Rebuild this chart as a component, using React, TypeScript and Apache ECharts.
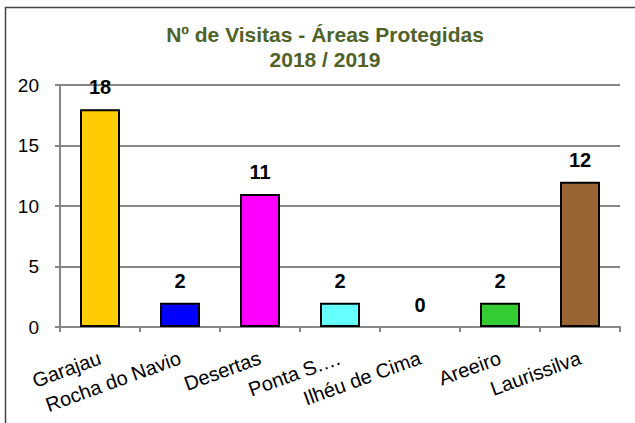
import React, { useEffect, useRef } from "react";
import * as echarts from "echarts";

const categories = ["Garajau", "Rocha do Navio", "Desertas", "Ponta S.…", "Ilhéu de Cima", "Areeiro", "Laurissilva"];
const visits = [18, 2, 11, 2, 0, 2, 12];
const barColors = ["#FFCC00", "#0000FF", "#FF00FF", "#66FFFF", "#33CC33", "#33CC33", "#996633"];
const yTicks = [0, 5, 10, 15, 20];
const titleLines = ["Nº de Visitas - Áreas Protegidas", "2018 / 2019"];

export default function App() {
  const ref = useRef<HTMLDivElement>(null);
  useEffect(() => {
    if (!ref.current) return;
    const chart = echarts.init(ref.current, null, { renderer: "svg" });
    const font = "Arial, 'Liberation Sans', sans-serif";
    chart.setOption({
      animation: false,
      backgroundColor: "#ffffff",
      title: {
        text: titleLines.join("\n"),
        left: 325,
        textAlign: "center",
        top: 22,
        padding: 0,
        textStyle: {
          color: "#4F6228",
          fontSize: 21,
          fontWeight: "bold",
          fontFamily: font,
          lineHeight: 25,
        },
      },
      graphic: [
        {
          type: "rect",
          shape: { x: 5.5, y: 7.5, width: 700, height: 500 },
          style: { fill: "none", stroke: "#444444", lineWidth: 1.5 },
          silent: true,
          z: 100,
        },
      ],
      grid: { left: 60, right: 15, top: 85, bottom: 96, containLabel: false },
      xAxis: {
        type: "category",
        data: categories,
        axisLine: { lineStyle: { color: "#868686", width: 2 } },
        axisTick: { show: true, length: 5, lineStyle: { color: "#868686", width: 2 } },
        axisLabel: {
          rotate: 20,
          interval: 0,
          margin: 30,
          color: "#000",
          fontSize: 20,
          fontFamily: font,
        },
      },
      yAxis: {
        type: "value",
        min: yTicks[0],
        max: yTicks[yTicks.length - 1],
        interval: 5,
        axisLine: { show: true, lineStyle: { color: "#868686", width: 2 } },
        axisTick: { show: true, length: 5, lineStyle: { color: "#868686", width: 2 } },
        splitLine: { lineStyle: { color: "#868686", width: 2 } },
        axisLabel: {
          margin: 21,
          color: "#000",
          fontSize: 19,
          fontFamily: font,
        },
      },
      series: [
        {
          type: "bar",
          barWidth: 40,
          data: visits.map((v, i) => ({
            value: v,
            itemStyle: {
              color: barColors[i],
              borderColor: "#000",
              borderWidth: v === 0 ? 0 : 2,
            },
          })),
          label: {
            show: true,
            position: "top",
            distance: 12,
            color: "#000",
            fontSize: 20,
            fontWeight: "bold",
            fontFamily: font,
          },
        },
      ],
    });
    return () => chart.dispose();
  }, []);
  return (
    <div
      ref={ref}
      style={{ position: "fixed", left: 0, top: 0, width: 635, height: 423 }}
    />
  );
}
